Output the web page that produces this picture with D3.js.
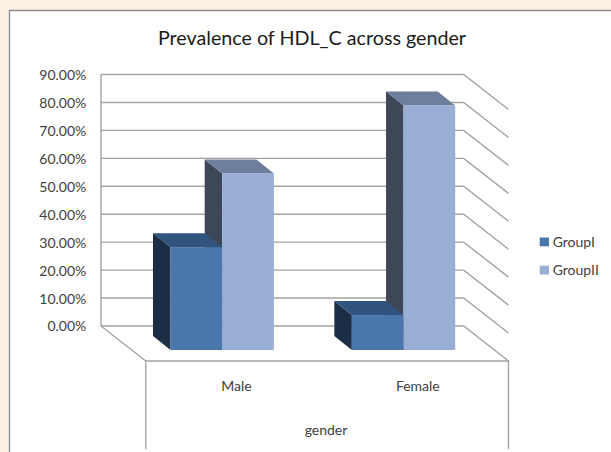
<!DOCTYPE html>
<html>
<head>
<meta charset="utf-8">
<script src="https://cdn.jsdelivr.net/npm/d3@7/dist/d3.min.js"></script>
<style>
  html, body { margin: 0; padding: 0; background: #fcefe4; }
  svg { display: block; }
  text { font-family: Lato, sans-serif; fill: #404040; }
</style>
</head>
<body>
<svg id="chart" width="611" height="452"></svg>
<script>
// Chart content
const chartTitle = "Prevalence of HDL_C across gender";
const categories = ["Male", "Female"];
const seriesNames = ["GroupI", "GroupII"];
const groupOne = [36.8, 12.5];
const groupTwo = [63.2, 87.5];
const yTicks = [0, 10, 20, 30, 40, 50, 60, 70, 80, 90];
const axisTitle = "gender";

// Face colours per series: front, side, top
const faceColors = [
  { front: "#4a76ab", side: "#1c2e46", top: "#31547e" },
  { front: "#98aed4", side: "#3d4757", top: "#6e7f9e" }
];

// Oblique projection of the 3D box
const wall = { left: 101, right: 463.7, top: 74.5, bottom: 326 };
const depth = { dx: 44.8, dy: 35 };
const barNear = { dx: 30.5, dy: 24 };
const barFar = { dx: 13, dy: 10 };
const frameBottom = 449;
const gridColor = "#a3a3a3";

const svg = d3.select("#chart");

// Chart area with its top and left border
svg.append("rect").attr("x", 9.5).attr("y", 10.5).attr("width", 602).attr("height", 442)
  .attr("fill", "#ffffff");
svg.append("path").attr("d", "M9.5,452V10.5H611").attr("fill", "none")
  .attr("stroke", "#8c8c8c").attr("stroke-width", 1.3);

const y = d3.scaleLinear().domain([0, 90]).range([wall.bottom, wall.top]);
const x0 = d3.scaleBand().domain(categories).range([wall.left, wall.right])
  .paddingInner(0.43).paddingOuter(0.215);
const x1 = d3.scaleBand().domain(seriesNames).range([0, x0.bandwidth()]);

// Back wall, side wall and floor grid
const grid = svg.append("g").attr("fill", "none").attr("stroke", gridColor).attr("stroke-width", 1.4);
yTicks.forEach(t => {
  grid.append("path").attr("d",
    `M${wall.left},${y(t)}H${wall.right}l${depth.dx},${depth.dy}`);
});
grid.append("path").attr("d", `M${wall.left},${wall.top}V${wall.bottom}l${depth.dx},${depth.dy}`);
grid.append("path").attr("d",
  `M${wall.left + depth.dx},${frameBottom}V${wall.bottom + depth.dy}H${wall.right + depth.dx}V${frameBottom}`);

// Bars: the right-hand series goes first so the left box covers its side face
const rows = categories.flatMap((c, i) => [
  { category: c, series: seriesNames[1], value: groupTwo[i], colors: faceColors[1] },
  { category: c, series: seriesNames[0], value: groupOne[i], colors: faceColors[0] }
]);
const bar = svg.append("g").selectAll("g").data(rows).join("g");
const offX = barNear.dx - barFar.dx;
const offY = barNear.dy - barFar.dy;
const frontX = d => x0(d.category) + x1(d.series) + barNear.dx;
const frontTop = d => y(d.value) + barNear.dy;
const frontBase = () => y(0) + barNear.dy;
const w = x1.bandwidth();

bar.append("path").attr("fill", d => d.colors.side)
  .attr("d", d => `M${frontX(d)},${frontTop(d)}l${-offX},${-offY}V${frontBase() - offY}l${offX},${offY}Z`);
bar.append("path").attr("fill", d => d.colors.top)
  .attr("d", d => `M${frontX(d)},${frontTop(d)}l${-offX},${-offY}h${w}l${offX},${offY}Z`);
bar.append("rect").attr("fill", d => d.colors.front)
  .attr("x", frontX).attr("y", frontTop).attr("width", w)
  .attr("height", d => frontBase() - frontTop(d));

// Value axis labels
const yAxis = svg.append("g").attr("transform", `translate(${wall.left},0.5)`)
  .call(d3.axisLeft(y).tickValues(yTicks).tickFormat(d => d.toFixed(2) + "%").tickSize(0).tickPadding(14.7));
yAxis.select(".domain").remove();
yAxis.selectAll("text").style("font-family", "Lato, sans-serif").style("font-size", "14px").attr("fill", "#404040");

// Category axis labels
const xAxis = svg.append("g").attr("transform", `translate(${depth.dx},381)`)
  .call(d3.axisBottom(x0).tickSize(0).tickPadding(0));
xAxis.select(".domain").remove();
xAxis.selectAll("text").style("font-family", "Lato, sans-serif").style("font-size", "14px").attr("fill", "#404040");

// Category axis title
svg.append("text").attr("x", 326).attr("y", 435).attr("text-anchor", "middle")
  .attr("font-size", 14).text(axisTitle);

// Chart title
svg.append("text").attr("x", 312).attr("y", 44.5).attr("text-anchor", "middle")
  .attr("font-size", 19.7).style("fill", "#1a1a1a").text(chartTitle);

// Legend
const legend = svg.append("g").selectAll("g").data(seriesNames).join("g")
  .attr("transform", (d, i) => `translate(539.7,${237.5 + i * 28.2})`);
legend.append("rect").attr("width", 9.3).attr("height", 8.8)
  .attr("fill", (d, i) => faceColors[i].front);
legend.append("text").attr("x", 13).attr("y", 9.2).attr("font-size", 14).text(d => d);
</script>
</body>
</html>
